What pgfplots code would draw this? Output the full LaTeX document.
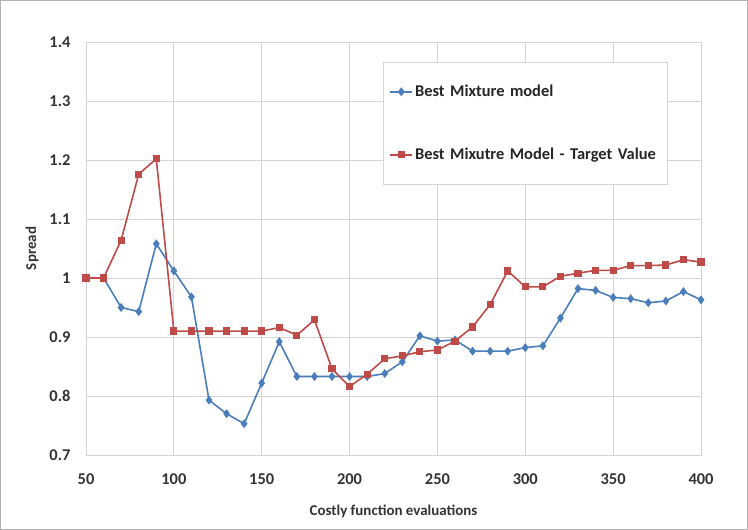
\documentclass[border=0pt]{standalone}
\usepackage{pgfplots}
\pgfplotsset{compat=1.18}
\usepackage{fontspec}
\setmainfont{Carlito}
\definecolor{sblue}{HTML}{4A7EBB}
\definecolor{sred}{HTML}{BE4B48}
\definecolor{gridc}{HTML}{D4D4D4}
\begin{document}
\begin{tikzpicture}[x=1bp,y=1bp]
\useasboundingbox (0,0) rectangle (748,530);
\draw[gray!60, line width=1bp] (0.5,0.5) rectangle (747.5,529.5);
\begin{axis}[
  at={(86bp,75bp)}, anchor=south west,
  width=615bp, height=413bp, scale only axis,
  xmin=50, xmax=400, ymin=0.7, ymax=1.4,
  xtick={50,100,...,400},
  ytick={0.7,0.8,...,1.4},
  yticklabels={0.7,0.8,0.9,1,1.1,1.2,1.3,1.4},
  /pgf/number format/assume math mode=true,
  tick label style={font=\fontsize{16.5}{18}\selectfont\bfseries, text=black!80},
  label style={font=\fontsize{15}{17}\selectfont\bfseries, text=black!80},
  xlabel={Costly function evaluations},
  ylabel={Spread},
  xlabel style={yshift=-14bp},
  ylabel style={yshift=4bp},
  grid=major,
  major grid style={gridc, line width=0.9bp},
  axis line style={gridc, line width=0.9bp},
  major tick length=0pt,
  xticklabel style={yshift=-15bp},
  yticklabel style={xshift=-12bp},
  legend style={at={(0.483,0.952)}, anchor=north west, draw=gridc, line width=0.9bp,
    font=\fontsize{16.5}{18}\selectfont\bfseries, text=black!85,
    inner xsep=6bp, inner ysep=21bp, row sep=46bp, text width=244bp},
  legend cell align=left,
  legend image code/.code={\draw[#1] (0bp,0bp) -- (22bp,0bp); \draw[#1,mark repeat=1] plot coordinates {(11bp,0bp)};},
]
\addplot[sblue, line width=1.6bp, mark=diamond*, mark size=3.2bp, mark options={fill=sblue, draw=sblue}] coordinates {
(50,1.0)(60,1.0)(70,0.950)(80,0.943)(90,1.058)(100,1.012)(110,0.968)(120,0.793)(130,0.770)(140,0.753)
(150,0.822)(160,0.892)(170,0.833)(180,0.833)(190,0.833)(200,0.833)(210,0.833)(220,0.838)(230,0.858)(240,0.902)
(250,0.893)(260,0.895)(270,0.876)(280,0.876)(290,0.876)(300,0.882)(310,0.885)(320,0.932)(330,0.982)(340,0.979)
(350,0.967)(360,0.965)(370,0.958)(380,0.961)(390,0.977)(400,0.963)};
\addlegendentry{Best Mixture model}
\addplot[sred, line width=1.6bp, mark=square*, mark size=2.8bp, mark options={fill=sred, draw=sred}] coordinates {
(50,1.0)(60,1.0)(70,1.064)(80,1.176)(90,1.202)(100,0.910)(110,0.910)(120,0.910)(130,0.910)(140,0.910)
(150,0.910)(160,0.916)(170,0.903)(180,0.929)(190,0.846)(200,0.816)(210,0.837)(220,0.863)(230,0.868)(240,0.875)
(250,0.878)(260,0.893)(270,0.917)(280,0.955)(290,1.012)(300,0.985)(310,0.985)(320,1.003)(330,1.008)(340,1.013)
(350,1.013)(360,1.021)(370,1.021)(380,1.022)(390,1.031)(400,1.027)};
\addlegendentry{Best Mixutre Model - Target Value}
\end{axis}
\end{tikzpicture}
\end{document}
